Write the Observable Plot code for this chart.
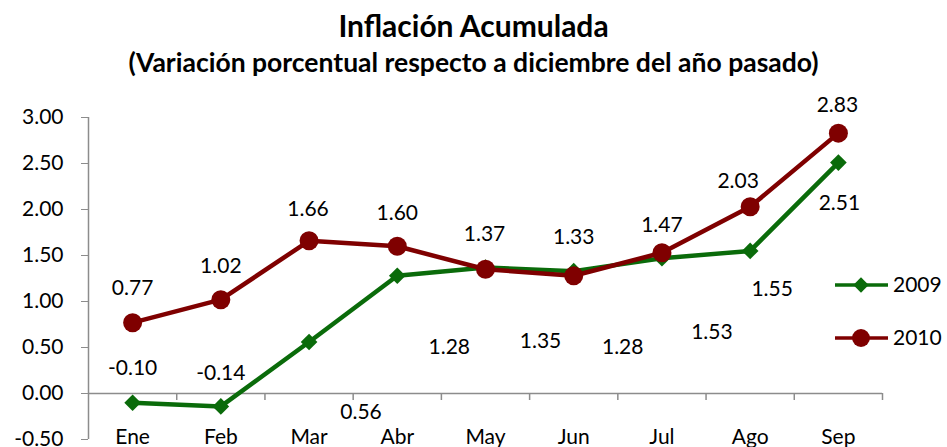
<!DOCTYPE html>
<html>
<head>
<meta charset="utf-8">
<script src="https://cdn.jsdelivr.net/npm/d3@7"></script>
<script src="https://cdn.jsdelivr.net/npm/@observablehq/plot@0.6"></script>
<style>
  body { margin: 0; background: #fff; font-family: Lato, "Open Sans", sans-serif; }
  #wrap { position: relative; width: 947px; height: 447px; overflow: hidden; }
  .title { position: absolute; left: 0; width: 947px; text-align: center; font-weight: bold; line-height: 1; color: #000; white-space: nowrap; }
  #t1 { top: 10px; font-size: 30px; }
  #t2 { top: 49px; font-size: 26.5px; }
  #chart { position: absolute; left: 0; top: 90px; }
  #legend { position: absolute; left: 830px; top: 268px; }
</style>
</head>
<body>
<div id="wrap">
  <div class="title" id="t1">Inflación Acumulada</div>
  <div class="title" id="t2">(Variación porcentual respecto a diciembre del año pasado)</div>
  <div id="chart"></div>
  <div id="legend"></div>
</div>
<script>
// ---- data ----
const months = ["Ene", "Feb", "Mar", "Abr", "May", "Jun", "Jul", "Ago", "Sep"];
const values2009 = [-0.10, -0.14, 0.56, 1.28, 1.37, 1.33, 1.47, 1.55, 2.51];
const values2010 = [0.77, 1.02, 1.66, 1.60, 1.35, 1.28, 1.53, 2.03, 2.83];
const seriesNames = ["2009", "2010"];
const yTicks = [-0.5, 0, 0.5, 1, 1.5, 2, 2.5, 3];

// ---- styling ----
const green = "#0a6b0a";
const red = "#7f0000";
const gray = "#8c8c8c";
const font = "Lato, 'Open Sans', sans-serif";
// label offsets (px) as placed in the original chart
const offs2009 = [[0,-34],[0,-33],[52,70],[52,72],[-1,-33],[0,-34],[0,-33],[22,38],[1,41]];
const offs2010 = [[0,-34],[0,-33],[-1,-32],[0,-33],[55,72],[49,72],[50,80],[-12,-25],[-1,-28]];

const idx = months.map((_, i) => i);
const bounds = d3.range(months.length + 1).map(i => i - 0.5);

function labels(vals, offs) {
  return vals.map((v, i) => Plot.text([v], {
    x: () => i, y: d => d, text: d => d.toFixed(2),
    dx: offs[i][0], dy: offs[i][1],
    fontSize: 21, fill: "#000", textAnchor: "middle"
  }));
}

const chart = Plot.plot({
  width: 947,
  height: 357,
  marginLeft: 88,
  marginRight: 65,
  marginTop: 27,
  marginBottom: 8,
  style: { fontFamily: font, fontSize: "21px", color: "#000", background: "transparent", overflow: "visible" },
  x: { type: "linear", domain: [-0.5, months.length - 0.5], axis: null },
  y: { domain: [-0.5, 3], axis: null },
  marks: [
    Plot.ruleX([bounds[0]], { stroke: gray, strokeWidth: 1.5 }),
    Plot.ruleY([0], { stroke: gray, strokeWidth: 1.5 }),
    Plot.ruleX(bounds.slice(1), { y1: 0, y2: 0, insetBottom: -7, stroke: gray, strokeWidth: 1.5 }),
    Plot.axisY({ ticks: yTicks, tickFormat: d => d.toFixed(2), tickSize: 7, tickPadding: 18, stroke: gray, fontSize: 21, label: null }),
    Plot.axisX({ ticks: idx, tickFormat: i => months[i], tickSize: 0, tickPadding: -10, fontSize: 21, label: null }),
    Plot.line(values2009, { x: (d, i) => i, y: d => d, stroke: green, strokeWidth: 4.5 }),
    Plot.dot(values2009, { x: (d, i) => i, y: d => d, symbol: "diamond2", r: 7.5, fill: green, stroke: "none" }),
    Plot.line(values2010, { x: (d, i) => i, y: d => d, stroke: red, strokeWidth: 4.5 }),
    Plot.dot(values2010, { x: (d, i) => i, y: d => d, symbol: "circle", r: 9.5, fill: red, stroke: "none" }),
    ...labels(values2009, offs2009),
    ...labels(values2010, offs2010)
  ]
});
document.getElementById("chart").appendChild(chart);

// ---- legend ----
const legendItems = [
  { name: seriesNames[0], color: green, symbol: d3.symbolDiamond2, size: 150 },
  { name: seriesNames[1], color: red, symbol: d3.symbolCircle, size: 250 }
];
const ls = d3.create("svg").attr("width", 117).attr("height", 90).style("overflow", "visible");
legendItems.forEach((it, k) => {
  const g = ls.append("g").attr("transform", `translate(0,${17 + k * 53})`);
  g.append("line").attr("x1", 5).attr("x2", 58).attr("stroke", it.color).attr("stroke-width", 3.5);
  g.append("path").attr("d", d3.symbol(it.symbol, it.size)()).attr("transform", "translate(31,0)").attr("fill", it.color);
  g.append("text").attr("x", 63).attr("dy", "0.35em").attr("font-family", font).attr("font-size", 21).attr("fill", "#000").text(it.name);
});
document.getElementById("legend").appendChild(ls.node());
</script>
</body>
</html>
